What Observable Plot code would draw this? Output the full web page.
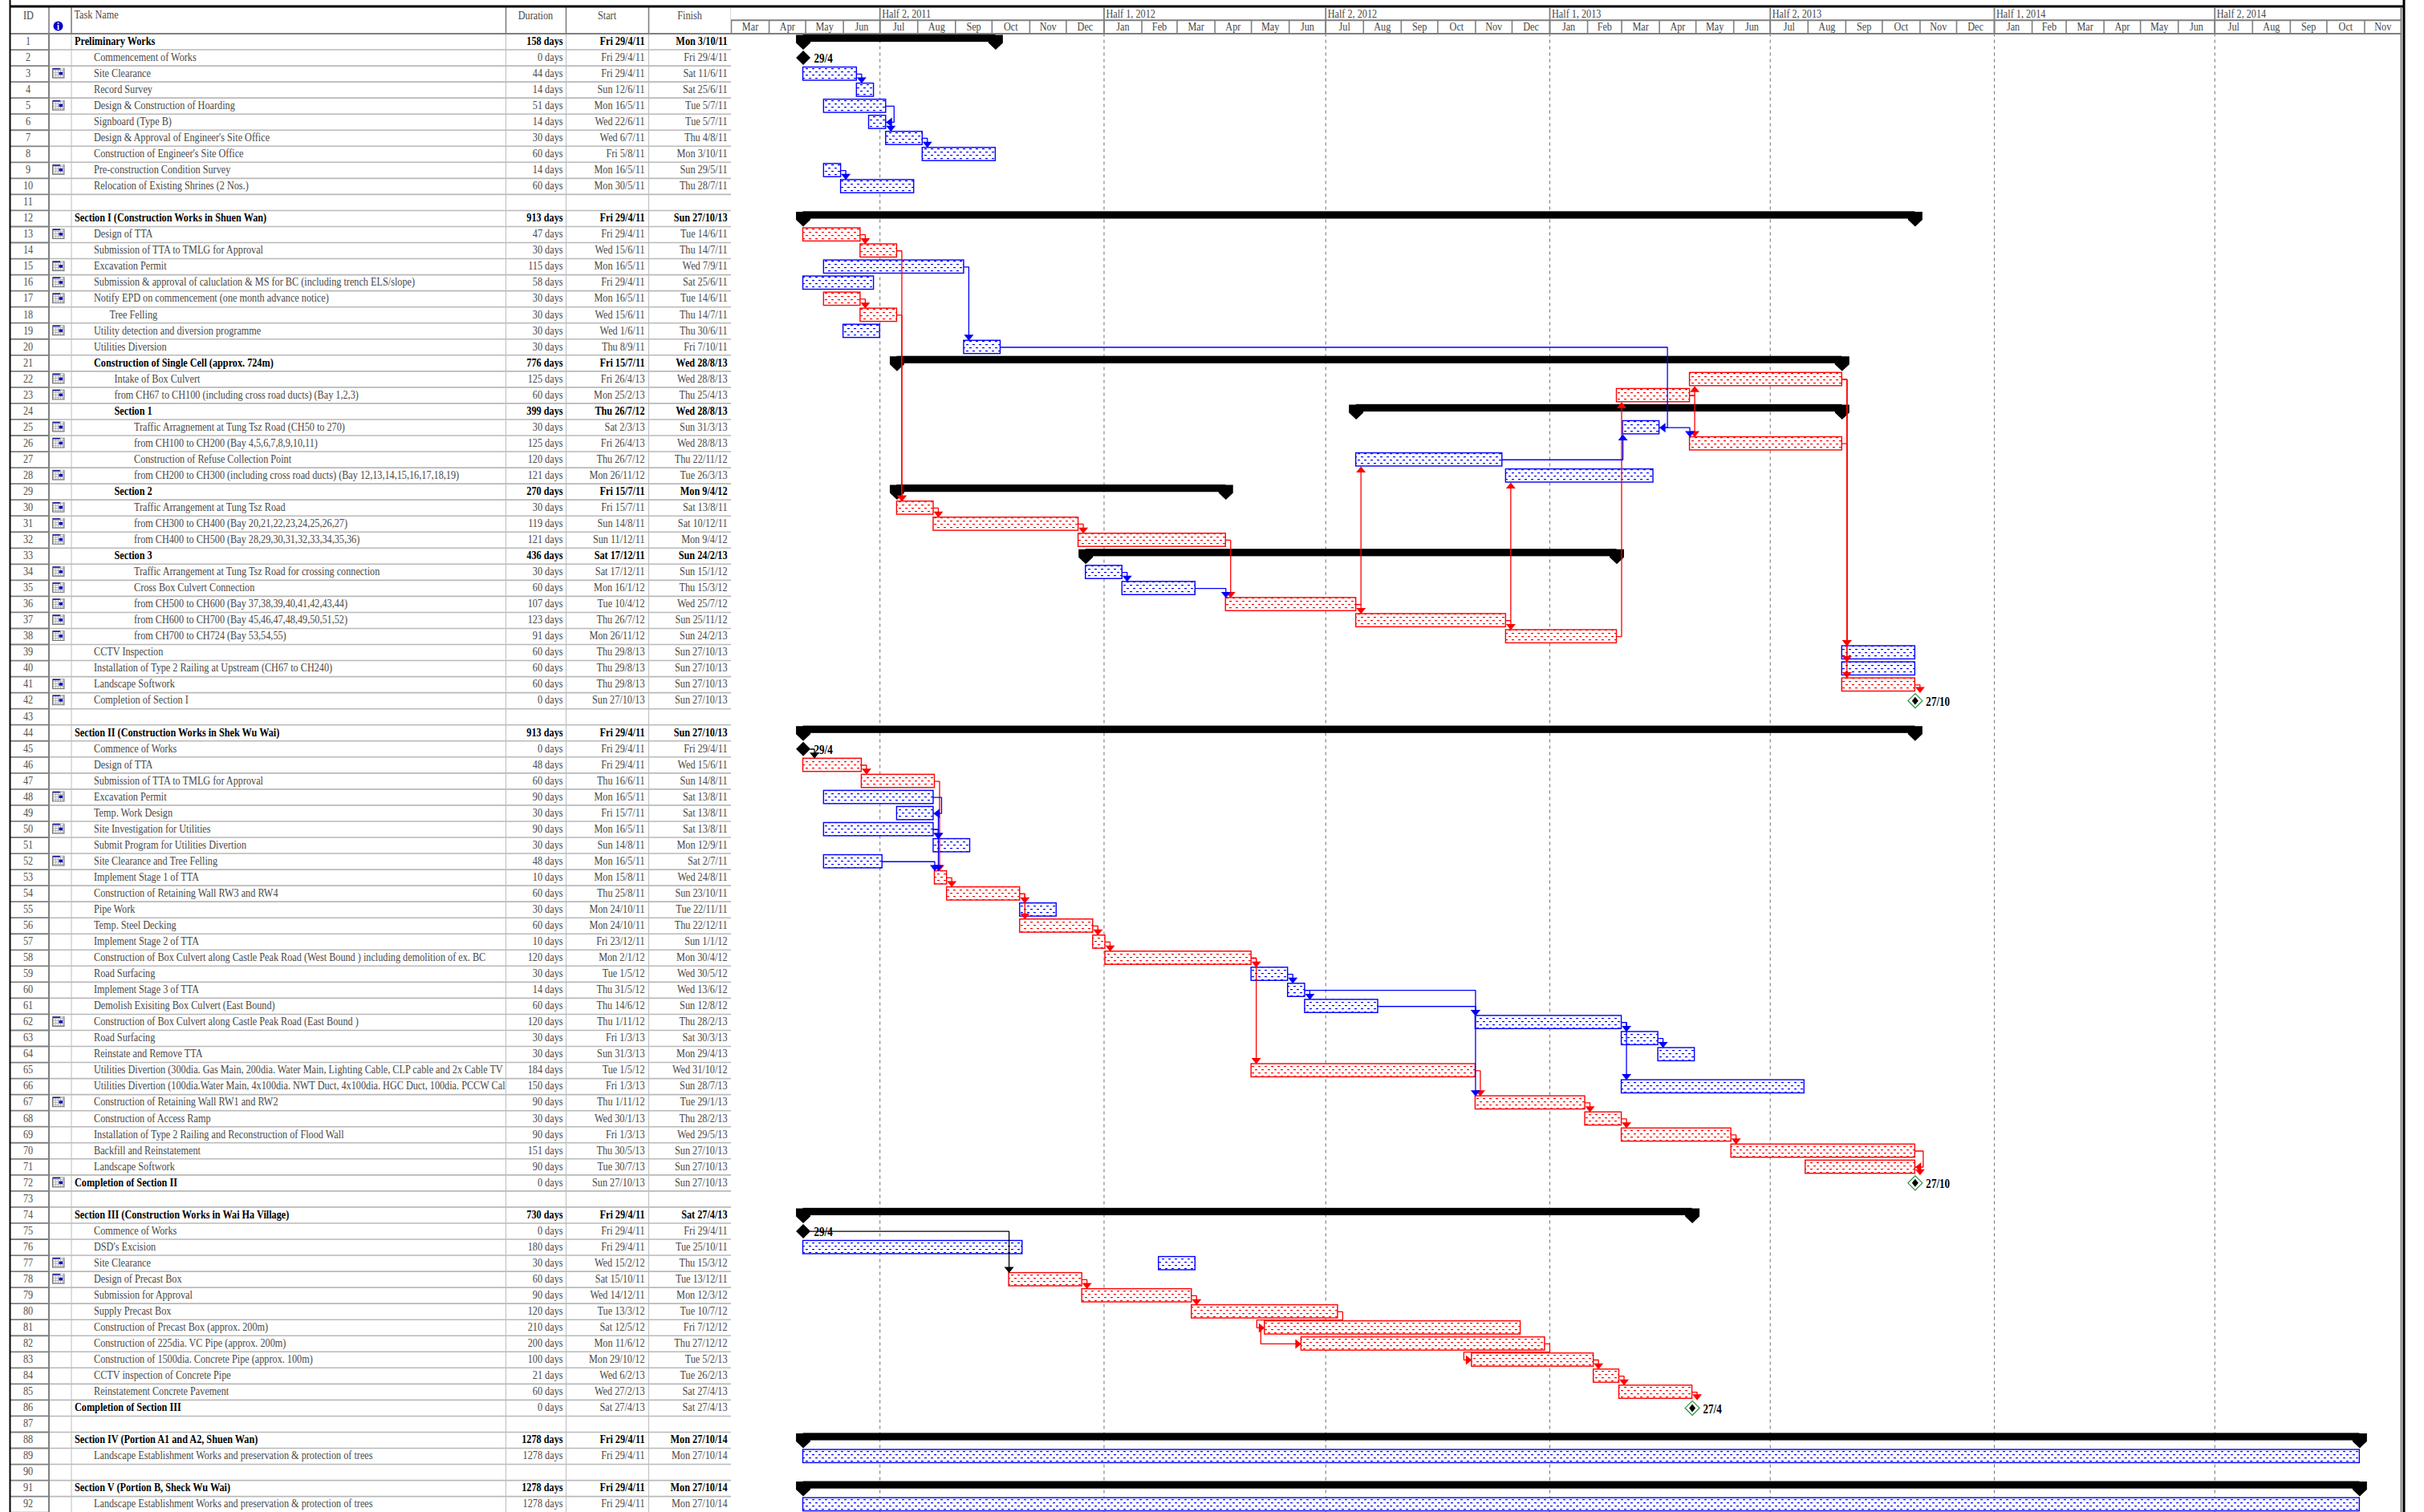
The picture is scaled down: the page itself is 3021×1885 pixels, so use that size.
<!DOCTYPE html>
<html>
<head>
<meta charset="utf-8">
<script src="https://cdn.jsdelivr.net/npm/d3@7"></script>
<script src="https://cdn.jsdelivr.net/npm/@observablehq/plot@0.6"></script>
<style>
html,body{margin:0;padding:0;background:#fff;overflow:hidden}
#wrap{display:flex;flex-direction:row;width:3021px;height:1885px}
#wrap svg{flex:none;display:block}
</style>
</head>
<body>
<div id="wrap"></div>
<script>
const taskNames = [
"Preliminary Works","Commencement of Works","Site Clearance","Record Survey","Design & Construction of Hoarding","Signboard (Type B)","Design & Approval of Engineer's Site Office","Construction of Engineer's Site Office","Pre-construction Condition Survey","Relocation of Existing Shrines (2 Nos.)","",
"Section I (Construction Works in Shuen Wan)","Design of TTA","Submission of TTA to TMLG for Approval","Excavation Permit","Submission & approval of caluclation & MS for BC (including trench ELS/slope)","Notify EPD on commencement (one month advance notice)","Tree Felling","Utility detection and diversion programme","Utilities Diversion","Construction of Single Cell (approx. 724m)","Intake of Box Culvert","from CH67 to CH100 (including cross road ducts) (Bay 1,2,3)","Section 1","Traffic Arragnement at Tung Tsz Road (CH50 to 270)","from CH100 to CH200 (Bay 4,5,6,7,8,9,10,11)","Construction of Refuse Collection Point","from CH200 to CH300 (including cross road ducts) (Bay 12,13,14,15,16,17,18,19)","Section 2","Traffic Arrangement at Tung Tsz Road","from CH300 to CH400 (Bay 20,21,22,23,24,25,26,27)","from CH400 to CH500 (Bay 28,29,30,31,32,33,34,35,36)","Section 3","Traffic Arrangement at Tung Tsz Road for crossing connection","Cross Box Culvert Connection","from CH500 to CH600 (Bay 37,38,39,40,41,42,43,44)","from CH600 to CH700 (Bay 45,46,47,48,49,50,51,52)","from CH700 to CH724 (Bay 53,54,55)","CCTV Inspection","Installation of Type 2 Railing at Upstream (CH67 to CH240)","Landscape Softwork","Completion of Section I","",
"Section II (Construction Works in Shek Wu Wai)","Commence of Works","Design of TTA","Submission of TTA to TMLG for Approval","Excavation Permit","Temp. Work Design","Site Investigation for Utilities","Submit Program for Utilities Divertion","Site Clearance and Tree Felling","Implement Stage 1 of TTA","Construction of Retaining Wall RW3 and RW4","Pipe Work","Temp. Steel Decking","Implement Stage 2 of TTA","Construction of Box Culvert along Castle Peak Road (West Bound ) including demolition of ex. BC","Road Surfacing","Implement Stage 3 of TTA","Demolish Exisiting Box Culvert (East Bound)","Construction of Box Culvert along Castle Peak Road (East Bound )","Road Surfacing","Reinstate and Remove TTA","Utilities Divertion (300dia. Gas Main, 200dia. Water Main, Lighting Cable, CLP cable and 2x Cable TV","Utilities Divertion (100dia.Water Main, 4x100dia. NWT Duct, 4x100dia. HGC Duct, 100dia. PCCW Cal","Construction of Retaining Wall RW1 and RW2","Construction of Access Ramp","Installation of Type 2 Railing and Reconstruction of Flood Wall","Backfill and Reinstatement","Landscape Softwork","Completion of Section II","",
"Section III (Construction Works in Wai Ha Village)","Commence of Works","DSD's Excision","Site Clearance","Design of Precast Box","Submission for Approval","Supply Precast Box","Construction of Precast Box (approx. 200m)","Construction of 225dia. VC Pipe (approx. 200m)","Construction of 1500dia. Concrete Pipe (approx. 100m)","CCTV inspection of Concrete Pipe","Reinstatement Concrete Pavement","Completion of Section III","",
"Section IV (Portion A1 and A2, Shuen Wan)","Landscape Establishment Works and preservation & protection of trees","",
"Section V (Portion B, Sheck Wu Wai)","Landscape Establishment Works and preservation & protection of trees"];
const durations = [158,0,44,14,51,14,30,60,14,60,null,913,47,30,115,58,30,30,30,30,776,125,60,399,30,125,120,121,270,30,119,121,436,30,60,107,123,91,60,60,60,0,null,913,0,48,60,90,30,90,30,48,10,60,30,60,10,120,30,14,60,120,30,30,184,150,90,30,90,151,90,0,null,730,0,180,30,60,90,120,210,200,100,21,60,0,null,1278,1278,null,1278,1278];
const startLabels = ["Fri 29/4/11","Fri 29/4/11","Fri 29/4/11","Sun 12/6/11","Mon 16/5/11","Wed 22/6/11","Wed 6/7/11","Fri 5/8/11","Mon 16/5/11","Mon 30/5/11","",
"Fri 29/4/11","Fri 29/4/11","Wed 15/6/11","Mon 16/5/11","Fri 29/4/11","Mon 16/5/11","Wed 15/6/11","Wed 1/6/11","Thu 8/9/11","Fri 15/7/11","Fri 26/4/13","Mon 25/2/13","Thu 26/7/12","Sat 2/3/13","Fri 26/4/13","Thu 26/7/12","Mon 26/11/12","Fri 15/7/11","Fri 15/7/11","Sun 14/8/11","Sun 11/12/11","Sat 17/12/11","Sat 17/12/11","Mon 16/1/12","Tue 10/4/12","Thu 26/7/12","Mon 26/11/12","Thu 29/8/13","Thu 29/8/13","Thu 29/8/13","Sun 27/10/13","",
"Fri 29/4/11","Fri 29/4/11","Fri 29/4/11","Thu 16/6/11","Mon 16/5/11","Fri 15/7/11","Mon 16/5/11","Sun 14/8/11","Mon 16/5/11","Mon 15/8/11","Thu 25/8/11","Mon 24/10/11","Mon 24/10/11","Fri 23/12/11","Mon 2/1/12","Tue 1/5/12","Thu 31/5/12","Thu 14/6/12","Thu 1/11/12","Fri 1/3/13","Sun 31/3/13","Tue 1/5/12","Fri 1/3/13","Thu 1/11/12","Wed 30/1/13","Fri 1/3/13","Thu 30/5/13","Tue 30/7/13","Sun 27/10/13","",
"Fri 29/4/11","Fri 29/4/11","Fri 29/4/11","Wed 15/2/12","Sat 15/10/11","Wed 14/12/11","Tue 13/3/12","Sat 12/5/12","Mon 11/6/12","Mon 29/10/12","Wed 6/2/13","Wed 27/2/13","Sat 27/4/13","",
"Fri 29/4/11","Fri 29/4/11","","Fri 29/4/11","Fri 29/4/11"];
const finishLabels = ["Mon 3/10/11","Fri 29/4/11","Sat 11/6/11","Sat 25/6/11","Tue 5/7/11","Tue 5/7/11","Thu 4/8/11","Mon 3/10/11","Sun 29/5/11","Thu 28/7/11","",
"Sun 27/10/13","Tue 14/6/11","Thu 14/7/11","Wed 7/9/11","Sat 25/6/11","Tue 14/6/11","Thu 14/7/11","Thu 30/6/11","Fri 7/10/11","Wed 28/8/13","Wed 28/8/13","Thu 25/4/13","Wed 28/8/13","Sun 31/3/13","Wed 28/8/13","Thu 22/11/12","Tue 26/3/13","Mon 9/4/12","Sat 13/8/11","Sat 10/12/11","Mon 9/4/12","Sun 24/2/13","Sun 15/1/12","Thu 15/3/12","Wed 25/7/12","Sun 25/11/12","Sun 24/2/13","Sun 27/10/13","Sun 27/10/13","Sun 27/10/13","Sun 27/10/13","",
"Sun 27/10/13","Fri 29/4/11","Wed 15/6/11","Sun 14/8/11","Sat 13/8/11","Sat 13/8/11","Sat 13/8/11","Mon 12/9/11","Sat 2/7/11","Wed 24/8/11","Sun 23/10/11","Tue 22/11/11","Thu 22/12/11","Sun 1/1/12","Mon 30/4/12","Wed 30/5/12","Wed 13/6/12","Sun 12/8/12","Thu 28/2/13","Sat 30/3/13","Mon 29/4/13","Wed 31/10/12","Sun 28/7/13","Tue 29/1/13","Thu 28/2/13","Wed 29/5/13","Sun 27/10/13","Sun 27/10/13","Sun 27/10/13","",
"Sat 27/4/13","Fri 29/4/11","Tue 25/10/11","Thu 15/3/12","Tue 13/12/11","Mon 12/3/12","Tue 10/7/12","Fri 7/12/12","Thu 27/12/12","Tue 5/2/13","Tue 26/2/13","Sat 27/4/13","Sat 27/4/13","",
"Mon 27/10/14","Mon 27/10/14","","Mon 27/10/14","Mon 27/10/14"];
// outline depth of each task name: 0 top, 1 task, 2 nested, 3 sub-section, 4 sub-section task
const outline = [0,1,1,1,1,1,1,1,1,1,1, 0,1,1,1,1,1,2,1,1,1,3,3,3,4,4,4,4,3,4,4,4,3,4,4,4,4,4,1,1,1,1,1, 0,1,1,1,1,1,1,1,1,1,1,1,1,1,1,1,1,1,1,1,1,1,1,1,1,1,1,1,0,1, 0,1,1,1,1,1,1,1,1,1,1,1,0,1, 0,1,1, 0,1];
const summaryRows = [1,12,21,24,29,33,44,74,88,91];
const boldNameRows = [72,86];
const blueRows = [3,4,5,6,7,8,9,10,15,16,19,20,25,27,28,34,35,39,40,48,49,50,51,52,55,59,60,61,62,63,64,66,76,77,89,92];
const redRows = [13,14,17,18,22,23,26,30,31,32,36,37,38,41,46,47,53,54,56,57,58,65,67,68,69,70,71,78,79,80,81,82,83,84,85];
const blackMilestones = [2,45,75];
const greenMilestones = [42,72,86];
const milestoneLabels = {2:"29/4",45:"29/4",75:"29/4",42:"27/10",72:"27/10",86:"27/4"};
const noteRows = [3,5,9,13,15,16,17,19,22,23,25,26,28,30,31,32,34,35,36,37,38,41,42,48,50,52,62,67,72,77,78];
const finishToStart = [[3,4],[6,7],[7,8],[9,10],[13,14],[14,30],[18,30],[15,20],[17,18],[25,26],[27,25],[23,22],[23,26],[22,39],[22,40],[22,41],[26,39],[30,31],[31,32],[32,36],[34,35],[35,36],[36,37],[36,27],[37,38],[37,28],[38,23],[41,42],
[45,46],[46,47],[47,53],[49,51],[50,51],[50,53],[52,53],[53,54],[54,55],[54,56],[56,57],[57,58],[58,59],[58,65],[59,60],[60,61],[60,62],[61,62],[61,67],[62,63],[62,66],[63,64],[65,67],[67,68],[68,69],[69,70],[71,72],
[75,78],[78,79],[79,80],[80,81],[82,83],[83,84],[84,85],[85,86]];
const finishToFinish = [[5,6],[48,49],[20,25],[70,71]];
const startToStart = [[81,82]];
const monthNames = ["Jan","Feb","Mar","Apr","May","Jun","Jul","Aug","Sep","Oct","Nov","Dec"];
const halfYears = [["2011-07-01","Half 2, 2011"],["2012-01-01","Half 1, 2012"],["2012-07-01","Half 2, 2012"],["2013-01-01","Half 1, 2013"],["2013-07-01","Half 2, 2013"],["2014-01-01","Half 1, 2014"],["2014-07-01","Half 2, 2014"]];
const headerCols = [["ID",35,"middle"],["Task Name",92,"start"],["Duration",667,"middle"],["Start",756,"middle"],["Finish",859,"middle"]];

// ---- layout -----
const FONT = "'Liberation Serif','Times New Roman',serif";
const FS = 15, TEXT_SQUEEZE = 0.815, INK = "#484848";
const H = 1885, rowH = 20.04, rowsTop = 41.5, N = 92;
const yScale = {domain:[0,N], range:[rowsTop, rowsTop+N*rowH], axis:null};
const hTop = -1.62, hMid = -0.84, hBlack = -1.7;
const tableW = 911, ganttW = 3021-911, ganttR = 2081;
const colLines = [88.5,630,705,808,911];
const idEdge = 60.5, tableLeft = 12;
const levelX = [92.5,116.5,136,142,166.5];

// ---- data -----
const parseD = s => { const m = s.match(/(\d+)\/(\d+)\/(\d+)/); return m ? new Date(Date.UTC(2000+ +m[3], m[2]-1, +m[1])) : null; };
const DAY = 864e5;
const tasks = taskNames.map((name,i)=>({id:i+1,name,dur:durations[i]==null?"":durations[i]+" days",startL:startLabels[i],finishL:finishLabels[i],
  start:parseD(startLabels[i]),end:startLabels[i]?new Date(+parseD(finishLabels[i])+DAY):null,
  level:outline[i],
  bold:summaryRows.includes(i+1)}));
const byId = id => tasks[id-1];
const domain0 = new Date(Date.UTC(2011,2,1)), domain1 = new Date(Date.UTC(2014,11,1));
const PX = (+domain1-+domain0)/ganttR; // ms per pixel
const shift = (d,px) => new Date(+d+px*PX);
const barTop=.1, barBot=.92, barMid=.51;

const msX = t => greenMilestones.includes(t.id)?t.end:t.start;

// connectors: each becomes a polyline in data units + a head
const links=[], heads={down:[],up:[],left:[],right:[]};
function colorOf(id){return redRows.includes(id)||greenMilestones.includes(id)?"red":blueRows.includes(id)?"blue":"black";}
function add(pts,color){const k=links.length?links[links.length-1].k+1:0;pts.forEach(p=>links.push({k,x:p[0],y:p[1],color}));}
finishToStart.forEach(([a,b])=>{
  const p=byId(a),s=byId(b),c=colorOf(a);
  const pMs=blackMilestones.includes(a);
  const pEnd=pMs?p.start:p.end;
  const from=pMs?shift(pEnd,9):pEnd;
  const minX=shift(pEnd,pMs?14:6);
  const sX=greenMilestones.includes(b)?s.end:s.start;
  const rowA=a-1+barMid;
  if(+sX<+pEnd-DAY*2 && b>a){
    const left=shift(sX,-10), mid=b-1+barMid;
    add([[from,rowA],[minX,rowA],[minX,a+.02],[left,a+.02],[left,mid],[shift(sX,-6),mid]],c);
    heads.right.push({x:sX,y:mid,color:c});
    return;
  }
  const X=+sX>+minX?sX:minX;
  const down=b>a;
  const end=down?b-1+barTop-.28:b-1+barBot+.28;
  add([[from,rowA],[X,rowA],[X,end]],c);
  (down?heads.down:heads.up).push({x:X,y:down?b-1+(greenMilestones.includes(b)?.02:barTop):b-1+barBot,color:c});
});
finishToFinish.forEach(([a,b])=>{
  const p=byId(a),s=byId(b),c=colorOf(a);
  const X=shift(+p.end>+s.end?p.end:s.end,10),mid=b-1+barMid,ra=a-1+barMid;
  add([[p.end,ra],[X,ra],[X,mid],[shift(s.end,6),mid]],c);
  heads.left.push({x:s.end,y:mid,color:c});
});
startToStart.forEach(([a,b])=>{
  const p=byId(a),s=byId(b),c=colorOf(a);
  const X=shift(p.start,-5),ra=a-1+barMid,mid=b-1+barMid;
  add([[X,ra],[X,mid],[shift(s.start,-6),mid]],c);
  heads.right.push({x:s.start,y:mid,color:c});
});

// ---- symbols -----
const poly = pts => ({draw(ctx){pts.forEach((p,i)=>i?ctx.lineTo(p[0],p[1]):ctx.moveTo(p[0],p[1]));ctx.closePath();}});
const capSymbol = poly([[-9,0],[9,0],[9,10],[0,18.5],[-9,10]]);
const diamond = poly([[0,-9],[9,0],[0,9],[-9,0]]);
const innerDiamond = poly([[0,-5],[4,0],[0,5],[-4,0]]);
const arrowDown = poly([[-6,-7.5],[6,-7.5],[0,0]]);
const arrowUp = poly([[-6,7.5],[6,7.5],[0,0]]);
const arrowLeft = poly([[7.5,-6],[7.5,6],[0,0]]);
const arrowRight = poly([[-7.5,-6],[-7.5,6],[0,0]]);

function patternDefs(){
  const defs=d3.create("svg:defs");
  [["dotBlue","#0000ff"],["dotRed","#ff0000"]].forEach(([id,c])=>{
    const p=defs.append("pattern").attr("id",id).attr("patternUnits","userSpaceOnUse").attr("width",8).attr("height",8);
    p.append("rect").attr("width",8).attr("height",8).attr("fill","#fff");
    p.append("rect").attr("x",1).attr("y",1).attr("width",3).attr("height",1.2).attr("fill",c);
    p.append("rect").attr("x",5).attr("y",5).attr("width",3).attr("height",1.2).attr("fill",c);
  });
  return defs.node();
}
function gridDefs(){
  const defs=d3.create("svg:defs");
  const p=defs.append("pattern").attr("id","calGrid").attr("patternUnits","userSpaceOnUse").attr("width",3).attr("height",3);
  p.append("rect").attr("width",3).attr("height",3).attr("fill","#f7f7f7");
  p.append("rect").attr("width",1).attr("height",3).attr("fill","#bbbbbb");
  p.append("rect").attr("width",3).attr("height",1).attr("fill","#bbbbbb");
  return defs.node();
}

// ---- table plot -----
const rowEdges = d3.range(1,N+1);
const textY = d=>d.id-.5;
const named = tasks.filter(d=>d.name);
const dated = tasks.filter(d=>d.startL);
const notes = noteRows.map(id=>({id}));
const textCommon = {fontFamily:FONT,fontSize:FS,lineAnchor:"middle",dy:-1};
const bold = d=>d.bold;
const notBold = d=>!d.bold;
const nameBold = d=>d.bold||boldNameRows.includes(d.id);
const tablePlot = Plot.plot({
  width:tableW,height:H,margin:0,
  style:{background:"#fff",maxWidth:"none",fontFamily:FONT},
  x:{domain:[0,tableW],range:[0,tableW],axis:null},
  y:yScale,
  marks:[
    gridDefs,
    Plot.ruleY(rowEdges,{x1:idEdge,x2:tableW,stroke:"#b9b9b9",strokeWidth:1.6}),
    Plot.ruleY(rowEdges,{x1:tableLeft,x2:idEdge,stroke:"#808080",strokeWidth:1.8}),
    Plot.ruleX(colLines,{y1:0,y2:N,stroke:"#bdbdbd",strokeWidth:1}),
    Plot.ruleX([idEdge],{y1:0,y2:N,stroke:"#808080",strokeWidth:2}),
    Plot.ruleX(colLines.concat(idEdge),{y1:hTop,y2:0,stroke:"#808080",strokeWidth:1.6}),
    Plot.ruleY([0],{x1:tableLeft,x2:tableW,stroke:"#808080",strokeWidth:2}),
    Plot.ruleY([hBlack],{x1:tableLeft,x2:tableW,stroke:"#000",strokeWidth:3}),
    Plot.ruleX([tableLeft],{y1:-2.1,y2:N,stroke:"#000",strokeWidth:2}),
    // header
    Plot.text(headerCols.filter(d=>d[2]==="middle"),{x:d=>d[1],y:()=>hTop+.46,text:d=>d[0],textAnchor:"middle",fill:INK,fontFamily:FONT,fontSize:FS,lineAnchor:"middle"}),
    Plot.text(headerCols.filter(d=>d[2]==="start"),{x:d=>d[1],y:()=>hTop+.42,text:d=>d[0],textAnchor:"start",fill:INK,fontFamily:FONT,fontSize:FS,lineAnchor:"middle"}),
    Plot.dot(["i"],{x:()=>72,y:()=>-.47,r:6,fill:"#0000c8"}),
    Plot.text(["i"],{x:()=>72,y:()=>-.47,text:d=>d,fill:"#fff",fontWeight:"bold",fontFamily:FONT,fontSize:13,lineAnchor:"middle"}),
    // calendar note icons
    Plot.rect(notes,{x1:()=>65,x2:()=>80.5,y1:d=>d.id-1+.16,y2:d=>d.id-1+.8,fill:"#707070"}),
    Plot.rect(notes,{x1:()=>66,x2:()=>79.5,y1:d=>d.id-1+.17,y2:d=>d.id-1+.75,fill:"url(#calGrid)"}),
    Plot.rect(notes,{x1:()=>66,x2:()=>75,y1:d=>d.id-1+.17,y2:d=>d.id-1+.25,fill:"#1818a8"}),
    Plot.rect(notes,{x1:()=>73.5,x2:()=>78,y1:d=>d.id-1+.41,y2:d=>d.id-1+.58,fill:"#0000d0"}),
    // cells
    Plot.text(tasks,{x:()=>34.5,y:textY,text:d=>String(d.id),textAnchor:"middle",fill:"#505050",...textCommon}),
    Plot.text(named.filter(d=>!nameBold(d)),{x:d=>levelX[d.level],y:textY,text:"name",textAnchor:"start",fill:INK,...textCommon}),
    Plot.text(named.filter(nameBold),{x:d=>levelX[d.level],y:textY,text:"name",textAnchor:"start",fill:"#000",fontWeight:"bold",...textCommon}),
    Plot.text(dated.filter(notBold),{x:()=>701,y:textY,text:"dur",textAnchor:"end",fill:INK,...textCommon}),
    Plot.text(dated.filter(bold),{x:()=>701,y:textY,text:"dur",textAnchor:"end",fill:"#000",fontWeight:"bold",...textCommon}),
    Plot.text(dated.filter(notBold),{x:()=>803,y:textY,text:"startL",textAnchor:"end",fill:INK,...textCommon}),
    Plot.text(dated.filter(bold),{x:()=>803,y:textY,text:"startL",textAnchor:"end",fill:"#000",fontWeight:"bold",...textCommon}),
    Plot.text(dated.filter(notBold),{x:()=>906,y:textY,text:"finishL",textAnchor:"end",fill:INK,...textCommon}),
    Plot.text(dated.filter(bold),{x:()=>906,y:textY,text:"finishL",textAnchor:"end",fill:"#000",fontWeight:"bold",...textCommon})
  ]
});

// ---- gantt plot -----
const months = d3.utcMonth.range(domain0,domain1);
const monthCells = months.map(m=>({date:m,mid:new Date((+m + +d3.utcMonth.offset(m,1))/2),label:monthNames[m.getUTCMonth()]}));
const halves = halfYears.map(([d,label])=>({date:new Date(d+"T00:00:00Z"),label}));
const halfDates = halves.map(d=>d.date);
const summaries = summaryRows.map(byId);
const caps = summaries.flatMap(t=>[{x:t.start,y:t.id-1},{x:t.end,y:t.id-1}]);
const blackMs = blackMilestones.map(byId);
const greenMs = greenMilestones.map(byId);
const msLabels = [...blackMs,...greenMs].map(t=>({x:msX(t),id:t.id,label:milestoneLabels[t.id]}));
const bars = (rows,fill,stroke)=>Plot.rect(rows.map(byId),{x1:"start",x2:"end",y1:d=>d.id-1+barTop,y2:d=>d.id-1+barBot,fill,stroke,strokeWidth:1.4});
const linkMarks = ["red","blue","black"].map(c=>Plot.line(links.filter(d=>d.color===c),{x:"x",y:"y",z:"k",stroke:c,strokeWidth:1.3,curve:"linear",strokeLinejoin:"miter"}));
const headMarks = [["down",arrowDown],["up",arrowUp],["left",arrowLeft],["right",arrowRight]].flatMap(([k,sym])=>
  ["red","blue","black"].map(c=>Plot.dot(heads[k].filter(d=>d.color===c),{x:"x",y:"y",r:6,symbol:sym,fill:c,stroke:"none"})));

const ganttPlot = Plot.plot({
  width:ganttW,height:H,margin:0,
  style:{background:"#fff",maxWidth:"none",fontFamily:FONT},
  x:{type:"utc",domain:[domain0,domain1],range:[0,ganttR],axis:null},
  y:yScale,
  marks:[
    patternDefs,
    Plot.ruleX(halfDates,{y1:0,y2:N,stroke:"#7a7a7a",strokeWidth:1.1,strokeDasharray:"4 4"}),
    // header
    Plot.ruleY([hBlack],{x1:domain0,x2:shift(domain1,5),stroke:"#000",strokeWidth:3}),
    Plot.ruleY([hMid,0],{x1:domain0,x2:domain1,stroke:"#808080",strokeWidth:2}),
    Plot.ruleX(months,{y1:hMid,y2:0,stroke:"#808080",strokeWidth:1.6}),
    Plot.ruleX(halfDates,{y1:hTop,y2:0,stroke:"#808080",strokeWidth:1.8}),
    Plot.ruleX([domain1],{y1:hTop,y2:N,stroke:"#808080",strokeWidth:2}),
    Plot.ruleX([shift(domain1,3.5)],{y1:-2.1,y2:N,stroke:"#000",strokeWidth:3}),
    Plot.text(monthCells,{x:"mid",y:()=>hMid+.42,text:"label",fill:INK,fontFamily:FONT,fontSize:FS,lineAnchor:"middle"}),
    Plot.text(halves,{x:"date",y:()=>hTop+.38,text:"label",textAnchor:"start",dx:2.5,fill:INK,fontFamily:FONT,fontSize:FS,lineAnchor:"middle"}),
    // summaries
    Plot.rect(summaries,{x1:"start",x2:"end",y1:d=>d.id-1+.07,y2:d=>d.id-1+.53,fill:"#000"}),
    Plot.dot(caps,{x:"x",y:"y",r:9,symbol:capSymbol,dy:1.5,fill:"#000",stroke:"none"}),
    // task bars
    bars(blueRows,"url(#dotBlue)","#0000ff"),
    bars(redRows,"url(#dotRed)","#ff0000"),
    // milestones
    Plot.dot(blackMs,{x:msX,y:d=>d.id-.5,r:9,symbol:diamond,fill:"#000",stroke:"none"}),
    Plot.dot(greenMs,{x:msX,y:d=>d.id-.5,r:9,symbol:diamond,fill:"#fff",stroke:"#1c8c2c",strokeWidth:1.1}),
    Plot.dot(greenMs,{x:msX,y:d=>d.id-.5,r:5,symbol:innerDiamond,fill:"#000",stroke:"none"}),
    ...linkMarks,
    ...headMarks,
    Plot.text(msLabels,{x:"x",y:d=>d.id-.5,text:"label",textAnchor:"start",dx:13.5,dy:1,fill:"#000",fontWeight:"bold",fontFamily:FONT,fontSize:16,lineAnchor:"middle"})
  ]
});
// the reference's type is tall and narrow: squeeze every label horizontally around its anchor
[tablePlot,ganttPlot].forEach(svg=>svg.querySelectorAll("text").forEach(t=>{
  t.setAttribute("transform",(t.getAttribute("transform")||"")+` scale(${TEXT_SQUEEZE},1)`);
}));
const wrap=document.getElementById("wrap");
wrap.appendChild(tablePlot);
wrap.appendChild(ganttPlot);
</script>
</body>
</html>
